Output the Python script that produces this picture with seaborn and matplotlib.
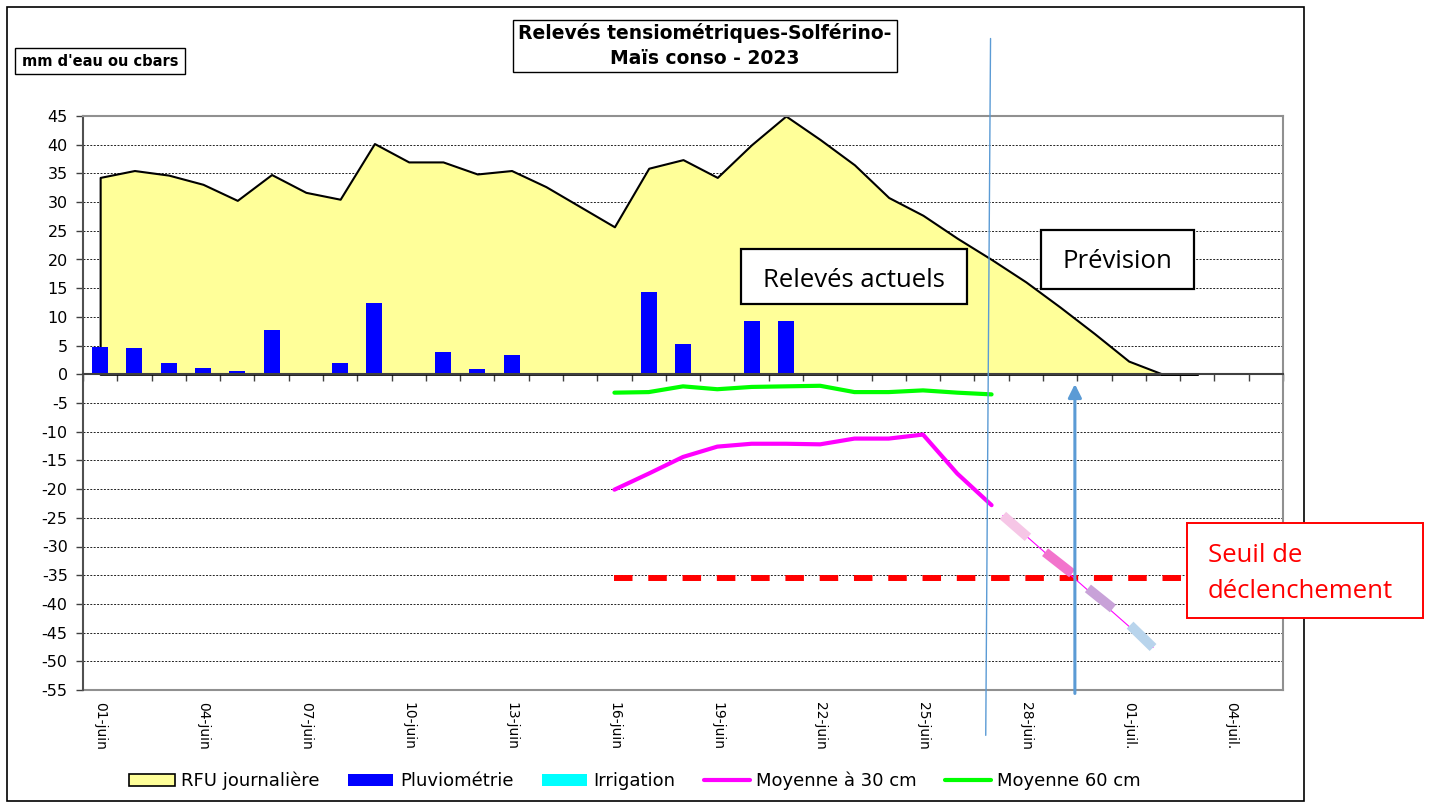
import numpy as np
import matplotlib
matplotlib.use('Agg')
import matplotlib.pyplot as plt
from matplotlib.patches import Rectangle, Patch
from matplotlib.lines import Line2D
import seaborn as sns

# ---- values ----
days = list(range(1, 36))  # 01-juin .. 05-juil.
day_labels = [f'{d:02d}-juin' for d in range(1, 31)] + [f'{d:02d}-juil.' for d in range(1, 6)]

rfu_days = list(range(1, 34))
rfu = [34.3, 35.5, 34.7, 33.1, 30.3, 34.8, 31.7, 30.5, 40.2, 37.0, 37.0, 34.9, 35.5,
       32.7, 29.2, 25.7, 35.9, 37.4, 34.3, 40.0, 45.0, 40.9, 36.5, 30.8, 27.7, 23.7,
       20.0, 16.1, 11.7, 7.1, 2.3, 0.0, 0.0]

pluvio = [4.8, 4.5, 1.9, 1.1, 0.6, 7.7, 0.0, 2.0, 12.4, 0.0, 3.8, 0.9, 3.3, 0.0, 0.0,
          0.0, 14.3, 5.3, 0.0, 9.3, 9.3, 0, 0, 0, 0, 0, 0, 0, 0, 0, 0, 0, 0, 0, 0]
irrigation = [0] * 35

sonde_days = list(range(16, 28))
moy_30 = [-20.1, -17.3, -14.4, -12.6, -12.1, -12.1, -12.2, -11.2, -11.2, -10.5, -17.3, -22.8]
moy_60 = [-3.2, -3.1, -2.1, -2.6, -2.2, -2.1, -2.0, -3.1, -3.1, -2.8, -3.2, -3.5]

seuil_days = [16, 32.55]
seuil = [-35.5, -35.5]

# hand-drawn forecast of the 30 cm average (four shaded pieces)
prev_start_day = [27.33, 28.56, 29.81, 31.04]
prev_end_day = [28.06, 29.35, 30.54, 31.71]
prev_start_val = [-24.6, -31.0, -37.3, -43.7]
prev_end_val = [-28.4, -34.7, -40.8, -47.6]
prev_colors = ['#f6c6e6', '#f274cc', '#c8a2d8', '#b8d4ec']

# "today" marker and the trigger arrow
now_x = [26.97, 26.83]
now_y = [58.5, -62.9]
arrow_day = 29.43
arrow_from, arrow_to = -55.6, -1.7

W, H = 1429, 802


def fx(x):
    return x / W


def fy(y):
    return 1 - y / H


def box(x0, y0, x1, y1, ec='black', lw=1.0, fc='white'):
    fig.add_artist(Rectangle((fx(x0), fy(y1)), (x1 - x0) / W, (y1 - y0) / H,
                             transform=fig.transFigure, facecolor=fc, edgecolor=ec,
                             linewidth=lw, zorder=10))


sns.set_style('white')
plt.rcParams['font.family'] = ['DejaVu Sans']
plt.rcParams.update({'text.color': 'black', 'xtick.color': 'black', 'ytick.color': 'black',
                     'axes.labelcolor': 'black', 'axes.unicode_minus': False})

fig = plt.figure(figsize=(W / 100, H / 100), dpi=100)
ax = fig.add_axes([fx(83), fy(690), 1200 / W, 574 / H])

# RFU area
ax.fill_between(rfu_days, rfu, 0, facecolor='#ffff99', edgecolor='black', linewidth=1.5, zorder=1)

# rain bars
sns.barplot(x=days, y=pluvio, native_scale=True, width=0.47, color='#0000ff',
            saturation=1, linewidth=0, ax=ax, zorder=2)

# tensiometer averages
sns.lineplot(x=sonde_days, y=moy_60, color='#00ff00', linewidth=3, ax=ax, zorder=3)
sns.lineplot(x=sonde_days, y=moy_30, color='#ff00ff', linewidth=3, ax=ax, zorder=3)

# trigger threshold
ax.plot(seuil_days, seuil, color='#ff0000', linewidth=4.3, linestyle=(0, (3.1, 2.64)),
        dash_capstyle='butt', zorder=3)

# forecast
ax.plot([prev_start_day[0], prev_end_day[-1]], [prev_start_val[0], prev_end_val[-1]],
        color='#ff00ff', linewidth=0.8, zorder=3)
for d0, d1, v0, v1, c in zip(prev_start_day, prev_end_day, prev_start_val, prev_end_val, prev_colors):
    ax.plot([d0, d1], [v0, v1], color=c, linewidth=7, solid_capstyle='butt', zorder=4)

ax.plot(now_x, now_y, color='#5b9bd5', linewidth=1, clip_on=False, zorder=5)
ax.annotate('', xy=(arrow_day, arrow_to), xytext=(arrow_day, arrow_from),
            arrowprops=dict(arrowstyle='-|>', color='#5b9bd5', lw=2.2, mutation_scale=20,
                            shrinkA=0, shrinkB=0),
            annotation_clip=False, zorder=5)

# axes
ax.set_xlim(0.5, 35.5)
ax.set_ylim(-55, 45)
ax.set_yticks(list(range(-55, 50, 5)))
ax.tick_params(axis='y', direction='out', length=5, width=1, color='#404040',
               labelsize=11.5, pad=6, left=True)
ax.set_xticks(np.arange(0.5, 36, 1))
ax.set_xticklabels([])
ax.tick_params(axis='x', direction='out', length=5, width=1, color='#404040', bottom=True)
ax.set_xlabel('')
ax.set_ylabel('')
ax.set_axisbelow(True)
ax.yaxis.grid(True, linestyle=(0, (2, 1.5)), color='#222222', linewidth=0.7)
ax.xaxis.grid(False)
ax.spines['bottom'].set_position(('data', 0))
ax.spines['bottom'].set_color('#404040')
ax.spines['bottom'].set_linewidth(1.5)
ax.spines['left'].set_color('#505050')
ax.spines['left'].set_linewidth(1.5)
for s in ['top', 'right']:
    ax.spines[s].set_color('#909090')
    ax.spines[s].set_linewidth(1.5)

sec = ax.secondary_xaxis('bottom')
sec.set_xticks(days[::3])
sec.set_xticklabels(day_labels[::3], rotation=-90)
sec.tick_params(length=0, pad=9, labelsize=10)
sec.spines['bottom'].set_color('#909090')
sec.spines['bottom'].set_linewidth(1.5)

# legend
handles = [Patch(facecolor='#ffff99', edgecolor='black', linewidth=1.2),
           Patch(facecolor='#0000ff', edgecolor='none'),
           Patch(facecolor='#00ffff', edgecolor='none'),
           Line2D([], [], color='#ff00ff', linewidth=3),
           Line2D([], [], color='#00ff00', linewidth=3)]
labels = ['RFU journalière', 'Pluviométrie', 'Irrigation', 'Moyenne à 30 cm', 'Moyenne 60 cm']
fig.legend(handles, labels, loc='center', bbox_to_anchor=(fx(635), fy(781)), ncol=5,
           frameon=False, fontsize=13, handlelength=2.5, handleheight=0.6,
           handletextpad=0.35, columnspacing=1.6)

# boxes and labels
box(7, 7, 1304, 801, lw=1.2, fc='none')
box(513, 20, 897, 72)
fig.text(fx(705), fy(39), 'Relevés tensiométriques-Solférino-', ha='center', va='baseline',
         fontsize=13.5, fontweight='bold', zorder=11)
fig.text(fx(705), fy(64), 'Maïs conso - 2023', ha='center', va='baseline',
         fontsize=13.5, fontweight='bold', zorder=11)
box(15, 48, 185, 74)
fig.text(fx(100), fy(61), "mm d'eau ou cbars", ha='center', va='center',
         fontsize=10.5, fontweight='bold', zorder=11)
box(741, 249, 967, 304, lw=1.6)
fig.text(fx(854), fy(287), 'Relevés actuels', ha='center', va='baseline',
         fontsize=18.5, family='Open Sans', zorder=11)
box(1041, 230, 1194, 289, lw=1.6)
fig.text(fx(1117), fy(268), 'Prévision', ha='center', va='baseline',
         fontsize=18.5, family='Open Sans', zorder=11)
box(1187, 523, 1423, 618, ec='#ff0000', lw=1.4)
fig.text(fx(1208), fy(562), 'Seuil de', ha='left', va='baseline', color='#ff0000',
         fontsize=18.5, family='Open Sans', zorder=11)
fig.text(fx(1208), fy(598), 'déclenchement', ha='left', va='baseline', color='#ff0000',
         fontsize=18.5, family='Open Sans', zorder=11)

fig.savefig('out.png', dpi=100)
